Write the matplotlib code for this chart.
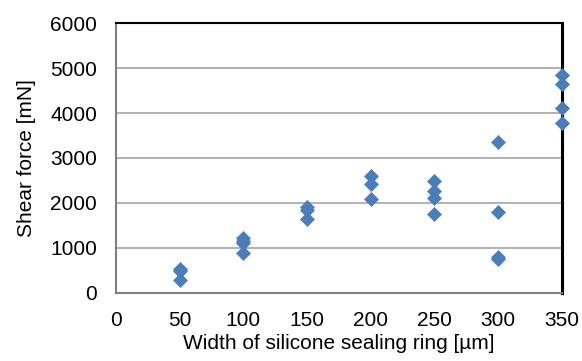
import matplotlib
matplotlib.use("Agg")
import matplotlib.pyplot as plt

# Shear force measurements per sealing-ring width
width_50 = [520, 480, 290]
width_100 = [1220, 1160, 1110, 880]
width_150 = [1900, 1850, 1650]
width_200 = [2600, 2410, 2080]
width_250 = [2490, 2270, 2120, 1760]
width_300 = [3350, 1800, 800, 750]
width_350 = [4850, 4650, 4110, 3770]

widths = [50, 100, 150, 200, 250, 300, 350]
forces = [width_50, width_100, width_150, width_200, width_250, width_300, width_350]

x_ticks = [0, 50, 100, 150, 200, 250, 300, 350]
y_ticks = [0, 1000, 2000, 3000, 4000, 5000, 6000]

plt.rcParams['font.family'] = ['Liberation Sans', 'DejaVu Sans']

fig = plt.figure(figsize=(5.82, 3.61), dpi=100)
ax = fig.add_axes([0.1993, 0.1892, 0.7657, 0.7463])

xs, ys = [], []
for w, vals in zip(widths, forces):
    xs.extend([w] * len(vals))
    ys.extend(vals)

ax.plot(xs, ys, linestyle='none', marker='D', markersize=7.2,
        color='#4A7EBB', markeredgecolor='#4A7EBB', markeredgewidth=0.5,
        zorder=5, clip_on=False)

ax.set_xlim(0, 350)
ax.set_ylim(0, 6000)
ax.set_xticks(x_ticks)
ax.set_yticks(y_ticks)
ax.yaxis.grid(True, color='#A6A6A6', linewidth=1.2)
ax.set_axisbelow(True)

ax.tick_params(axis='both', length=0, labelsize=15, colors='black')
ax.tick_params(axis='x', pad=13)
ax.tick_params(axis='y', pad=13.5)

for side in ('left', 'bottom'):
    ax.spines[side].set_color('#808080')
    ax.spines[side].set_linewidth(1.5)
ax.spines['top'].set_color('black')
ax.spines['top'].set_linewidth(1.5)
ax.spines['right'].set_color('black')
ax.spines['right'].set_linewidth(2.2)

ax.set_xlabel('Width of silicone sealing ring [µm]', fontsize=15, labelpad=3)
ax.set_ylabel('Shear force [mN]', fontsize=15, labelpad=10)

fig.savefig('out.png', dpi=100)
